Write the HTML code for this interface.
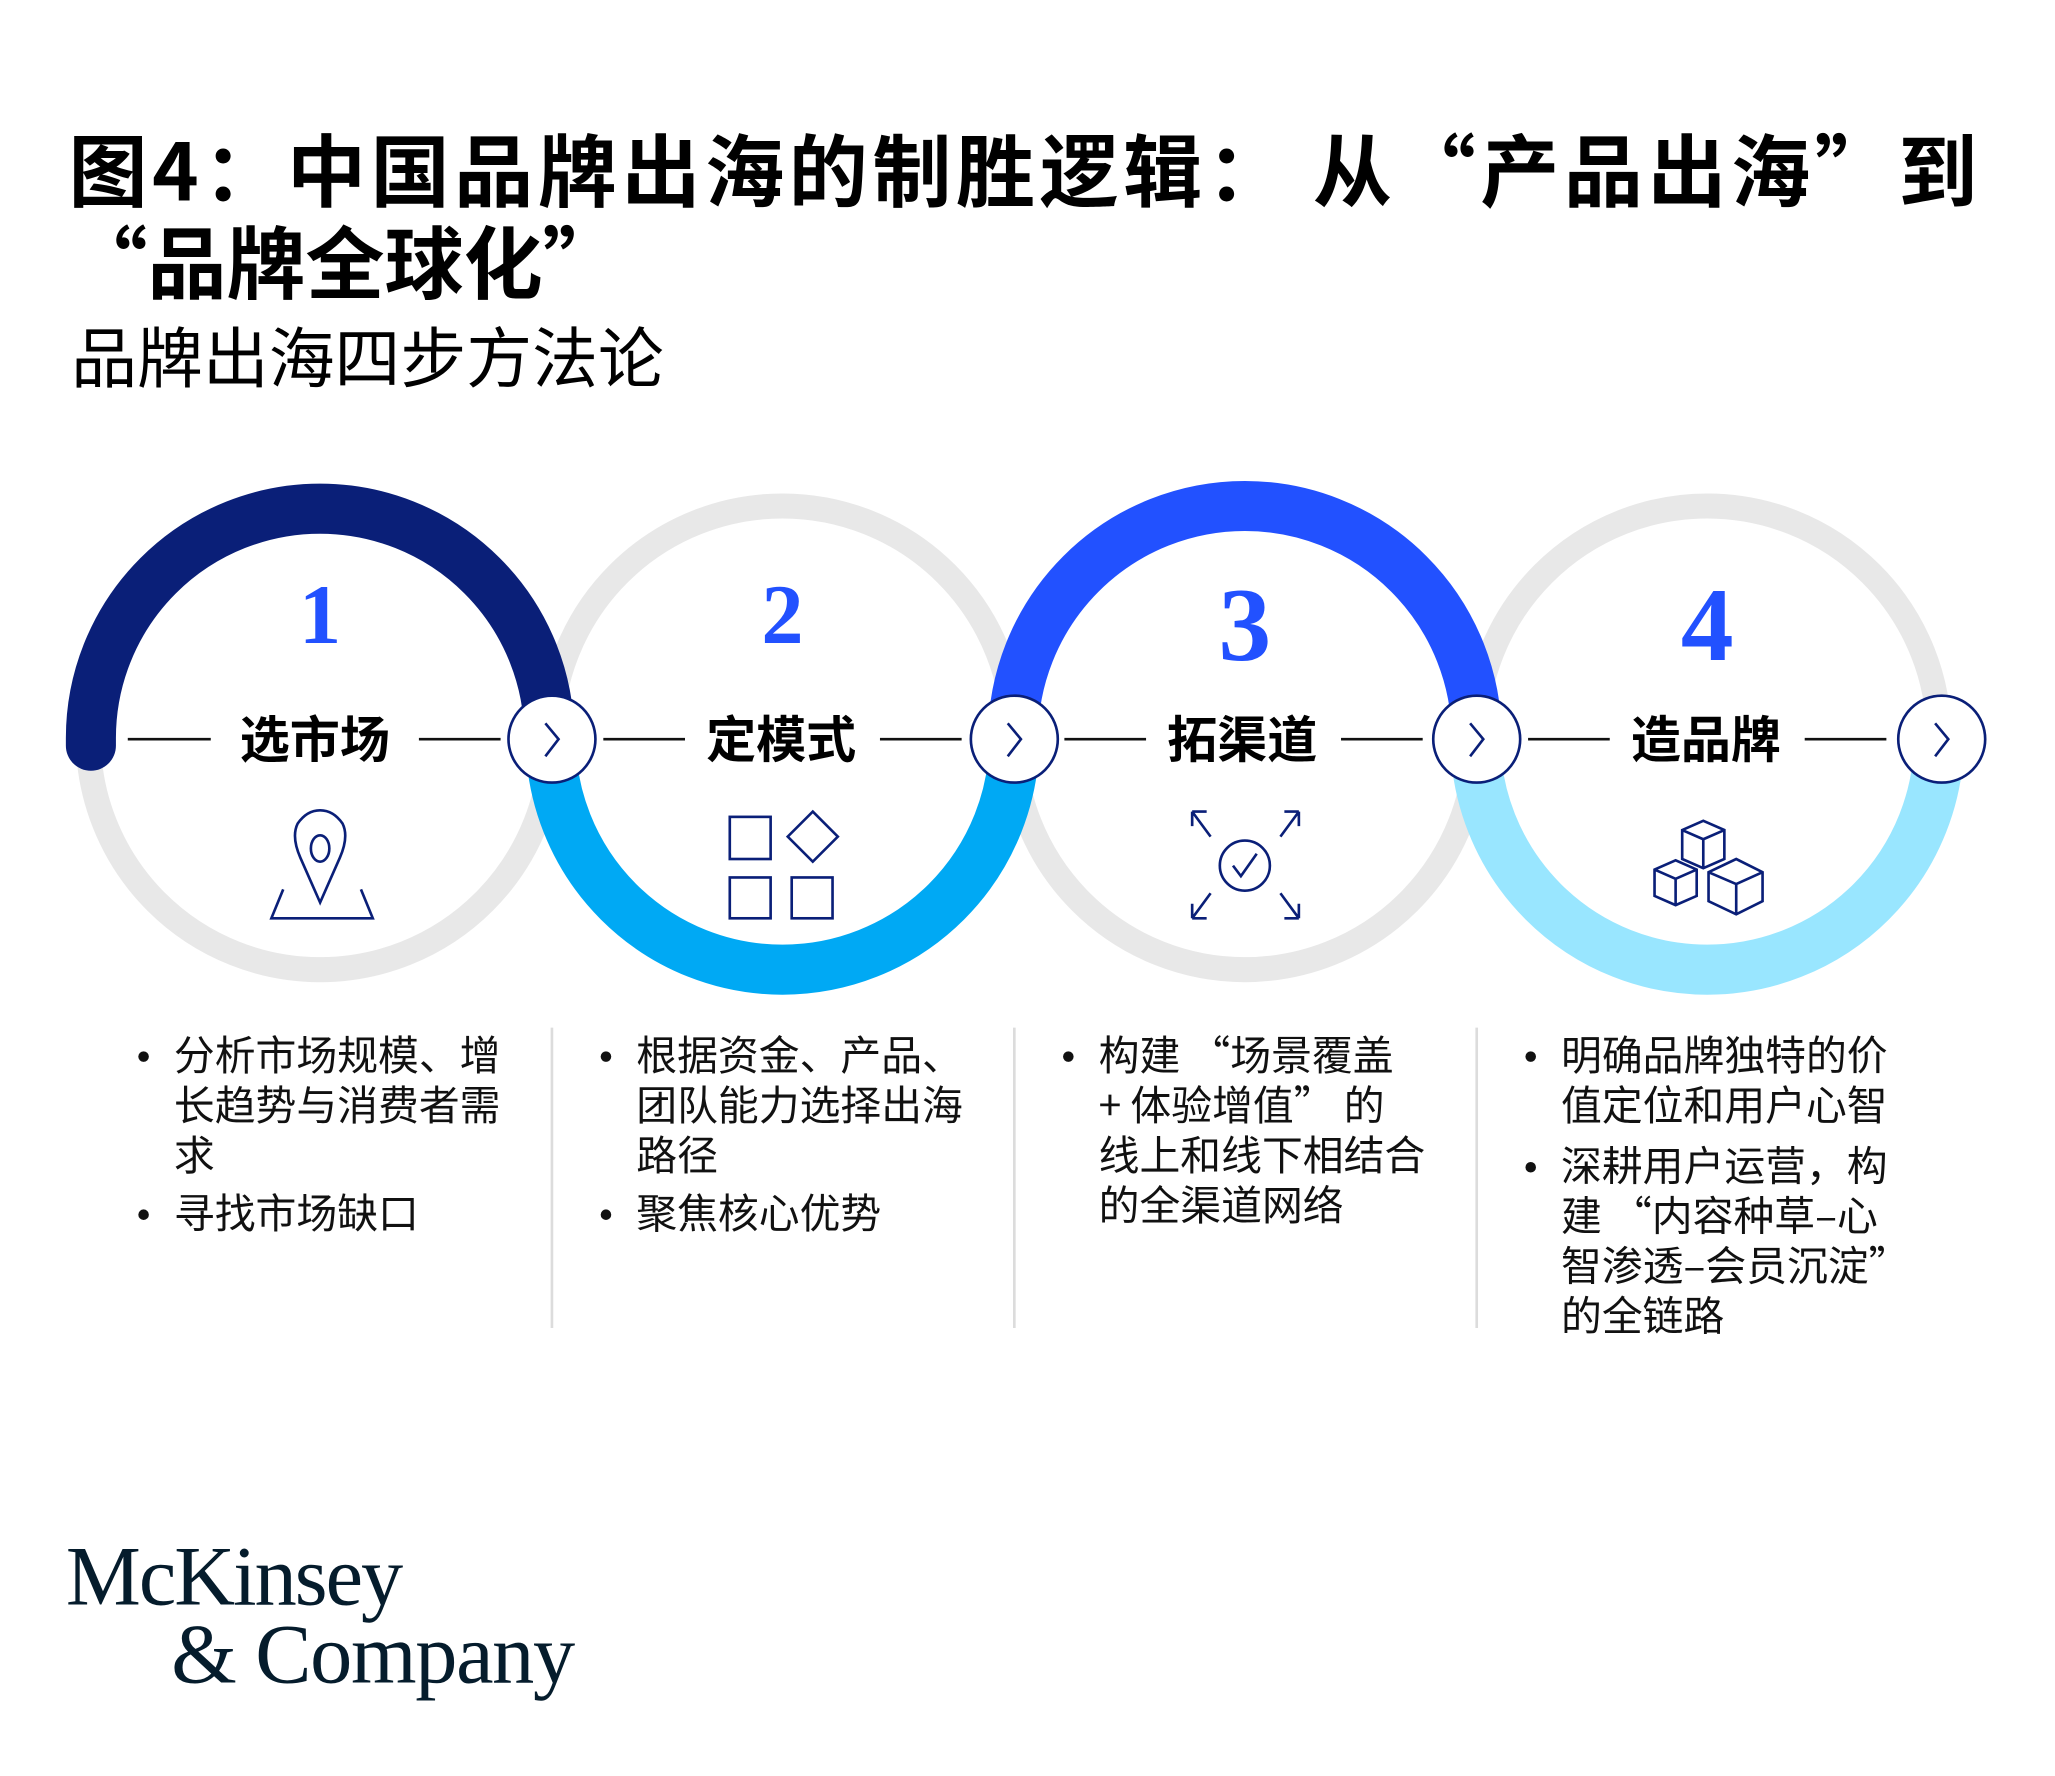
<!DOCTYPE html>
<html><head><meta charset="utf-8"><style>
html,body{margin:0;padding:0;background:#fff;}
svg{display:block}
</style></head><body>
<svg width="2055" height="1776" viewBox="0 0 1560 1348" xmlns="http://www.w3.org/2000/svg">
<rect width="1560" height="1348" fill="#fff"/>
<g fill="#000" font-family="Noto Sans CJK SC,Liberation Sans,sans-serif">
<text x="52" y="152" font-size="60" font-weight="700" letter-spacing="3.5">图4：中国品牌出海的制胜逻辑： 从“产品出海”到</text>
<text x="52" y="222" font-size="60" font-weight="700">“品牌全球化”</text>
<text x="54" y="290" font-size="50">品牌出海四步方法论</text>
</g>
<!-- grey rings -->
<g fill="none" stroke="#e8e8e8" stroke-width="19">
<path d="M67 560 A176 176 0 0 0 419 560"/>
<path d="M418 560 A176 176 0 0 1 770 560"/>
<path d="M769 560 A176 176 0 0 0 1121 560"/>
<path d="M1120 560 A176 176 0 0 1 1472 560"/>
</g>
<g fill="none" stroke-width="38">
<path d="M69 566 L69 560 A174 174 0 0 1 417 560" stroke="#0a1f78" stroke-linecap="round"/>
<path d="M418 560 A176 176 0 0 0 770 560" stroke="#00a9f4"/>
<path d="M769 560 A176 176 0 0 1 1121 560" stroke="#2251ff"/>
<path d="M1120 560 A176 176 0 0 0 1472 560" stroke="#99e6ff"/>
</g>
<!-- connector lines -->
<g stroke="#111" stroke-width="2">
<line x1="97" y1="561" x2="160" y2="561"/><line x1="318" y1="561" x2="380" y2="561"/>
<line x1="458" y1="561" x2="520" y2="561"/><line x1="668" y1="561" x2="730" y2="561"/>
<line x1="808" y1="561" x2="870" y2="561"/><line x1="1018" y1="561" x2="1080" y2="561"/>
<line x1="1160" y1="561" x2="1222" y2="561"/><line x1="1370" y1="561" x2="1432" y2="561"/>
</g>
<!-- arrow circles -->
<g fill="#fff" stroke="#0a1f78" stroke-width="2">
<circle cx="419" cy="561" r="33"/><circle cx="770" cy="561" r="33"/>
<circle cx="1121" cy="561" r="33"/><circle cx="1474" cy="561" r="33"/>
</g>
<g fill="none" stroke="#0a1f78" stroke-width="2">
<path d="M414 549 L424 561 L414 574"/><path d="M765 549 L775 561 L765 574"/>
<path d="M1116 549 L1126 561 L1116 574"/><path d="M1469 549 L1479 561 L1469 574"/>
</g>
<!-- labels -->
<g font-family="Noto Sans CJK SC,Liberation Sans,sans-serif" font-size="38" font-weight="700" text-anchor="middle" fill="#000">
<text x="239" y="575">选市场</text><text x="593" y="575">定模式</text>
<text x="943" y="575">拓渠道</text><text x="1295" y="575">造品牌</text>
</g>
<!-- numbers -->
<g font-family="Liberation Serif,serif" font-weight="700" fill="#2251ff" text-anchor="middle">
<text x="243" y="488" font-size="64">1</text><text x="594" y="488" font-size="64">2</text>
<text x="945" y="501" font-size="80">3</text><text x="1296" y="501" font-size="80">4</text>
</g>
<!-- icons -->
<g fill="none" stroke="#0a1f78" stroke-width="2">
<path d="M243 685 L228 651 Q221 635 226 625 Q233 615 243 615 Q253 615 260 625 Q265 635 258 651 Z"/>
<ellipse cx="243" cy="644" rx="7" ry="10"/>
<path d="M215 675 L206 697 L283 697 L274 675"/>
<rect x="554" y="620" width="31" height="32"/>
<path d="M617 616 L636 635 L617 654 L598 635 Z"/>
<rect x="554" y="666" width="31" height="31"/>
<rect x="601" y="666" width="31" height="31"/>
<circle cx="945" cy="657" r="19"/>
<path d="M936 657 L942 665 L954 648"/>
<path d="M905 616 L919 635 M905 616 L905 627 M905 616 L916 616"/>
<path d="M986 616 L972 635 M986 616 L986 627 M986 616 L975 616"/>
<path d="M905 697 L919 678 M905 697 L905 686 M905 697 L916 697"/>
<path d="M986 697 L972 678 M986 697 L986 686 M986 697 L975 697"/>
<path d="M1277 630 L1293 623 L1309 630 L1309 652 L1293 659 L1277 652 Z M1277 630 L1293 637 L1309 630 M1293 637 L1293 659"/>
<path d="M1256 660 L1272 653 L1288 660 L1288 680 L1272 687 L1256 680 Z M1256 660 L1272 667 L1288 660 M1272 667 L1272 687"/>
<path d="M1297 662 L1318 652 L1338 662 L1338 684 L1318 694 L1297 684 Z M1297 662 L1318 671 L1338 662 M1318 671 L1318 694"/>
</g>
<!-- dividers -->
<g stroke="#dcdcdc" stroke-width="2">
<line x1="419" y1="780" x2="419" y2="1008"/><line x1="770" y1="780" x2="770" y2="1008"/>
<line x1="1121" y1="780" x2="1121" y2="1008"/>
</g>
<!-- bullets -->
<g font-family="Noto Sans CJK SC,Liberation Sans,sans-serif" font-size="31" fill="#111">
<circle cx="109" cy="802" r="4"/><circle cx="109" cy="922" r="4"/>
<text x="132" y="812">分析市场规模、增</text><text x="132" y="850">长趋势与消费者需</text><text x="132" y="888">求</text>
<text x="132" y="932">寻找市场缺口</text>
<circle cx="460" cy="802" r="4"/><circle cx="460" cy="922" r="4"/>
<text x="483" y="812">根据资金、产品、</text><text x="483" y="850">团队能力选择出海</text><text x="483" y="888">路径</text>
<text x="483" y="932">聚焦核心优势</text>
<circle cx="811" cy="802" r="4"/>
<text x="834" y="812">构建 “场景覆盖</text><text x="834" y="850">+ 体验增值” 的</text><text x="834" y="888">线上和线下相结合</text><text x="834" y="926">的全渠道网络</text>
<circle cx="1162" cy="802" r="4"/><circle cx="1162" cy="886" r="4"/>
<text x="1185" y="812">明确品牌独特的价</text><text x="1185" y="850">值定位和用户心智</text>
<text x="1185" y="896">深耕用户运营，构</text><text x="1185" y="934">建 “内容种草–心</text><text x="1185" y="972">智渗透–会员沉淀”</text><text x="1185" y="1010">的全链路</text>
</g>
<!-- logo -->
<g font-family="Liberation Serif,serif" fill="#051c2c">
<text x="50" y="1218" font-size="64" letter-spacing="-1.5">McKinsey</text>
<text x="130" y="1277" font-size="64" letter-spacing="-1">&amp; Company</text>
</g>
</svg>
</body></html>
